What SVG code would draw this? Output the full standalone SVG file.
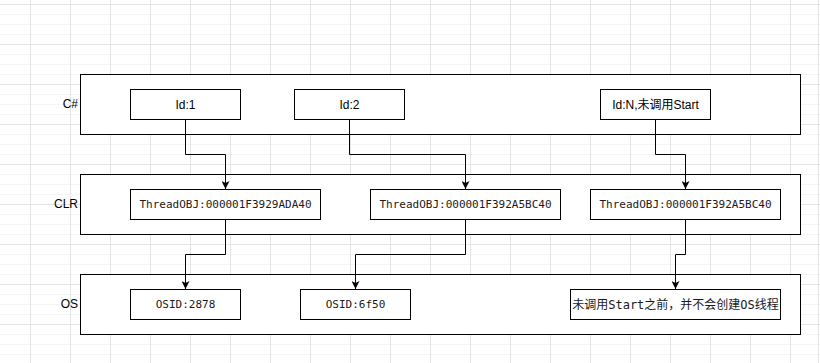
<svg xmlns="http://www.w3.org/2000/svg" width="820" height="363" viewBox="0 0 820 363">
  <defs>
    <pattern id="minor" x="0" y="4" width="10" height="10" patternUnits="userSpaceOnUse">
      <path d="M10.5 0 V10 M0 0.5 H10" fill="none" stroke="#f4f4f4" stroke-width="1"/>
    </pattern>
    <pattern id="major" x="30" y="4" width="40" height="40" patternUnits="userSpaceOnUse">
      <path d="M0.5 0 V40 M0 0.5 H40" fill="none" stroke="#e4e4e4" stroke-width="1"/>
    </pattern>
    <marker id="arrow" viewBox="0 0 8 8" refX="8" refY="4" markerWidth="8" markerHeight="8" markerUnits="userSpaceOnUse" orient="auto">
      <path d="M0 0 L8 4 L0 8 L2 4 Z" fill="#000"/>
    </marker>
    <style>
      .layer { fill: #fff; stroke: #000; stroke-width: 1; }
      .box { fill: #fff; stroke: #000; stroke-width: 1; }
      .lbl { font-family: "Liberation Sans", Arial, sans-serif; font-size: 12px; fill: #000; }
      .sans { font-family: "Liberation Sans", "Noto Sans CJK SC", Arial, sans-serif; font-size: 12px; fill: #000; text-anchor: middle; }
      .mono { font-family: "DejaVu Sans Mono", "Noto Sans CJK SC", monospace; font-size: 11px; fill: #1a1a1a; text-anchor: middle; }
      .monocjk { font-family: "DejaVu Sans Mono", "Noto Sans CJK SC", monospace; font-size: 12px; fill: #1a1a1a; text-anchor: middle; }
      .conn { fill: none; stroke: #000; stroke-width: 1; }
    </style>
  </defs>
  <rect width="820" height="363" fill="#fff"/>
  <rect width="820" height="363" fill="url(#minor)"/>
  <rect width="820" height="363" fill="url(#major)"/>
  <line x1="818.5" y1="0" x2="818.5" y2="363" stroke="#e4e4e4"/>

  <g id="layer-cs">
    <rect class="layer" x="80.5" y="74.5" width="720" height="60"/>
    <text class="lbl" x="78" y="108" text-anchor="end">C#</text>
  </g>
  <g id="layer-clr">
    <rect class="layer" x="80.5" y="174.5" width="720" height="60"/>
    <text class="lbl" x="78" y="208" text-anchor="end">CLR</text>
  </g>
  <g id="layer-os">
    <rect class="layer" x="80.5" y="274.5" width="720" height="60"/>
    <text class="lbl" x="78" y="308" text-anchor="end">OS</text>
  </g>

  <g id="cs-id1">
    <rect class="box" x="130.5" y="89.5" width="110" height="30"/>
    <text class="sans" x="185.5" y="108.5">Id:1</text>
  </g>
  <g id="cs-id2">
    <rect class="box" x="294.5" y="89.5" width="110" height="30"/>
    <text class="sans" x="349.5" y="108.5">Id:2</text>
  </g>
  <g id="cs-idn">
    <rect class="box" x="600.5" y="89.5" width="110" height="30"/>
    <text class="sans" x="655.5" y="108.5">Id:N,未调用Start</text>
  </g>

  <g id="clr-obj1">
    <rect class="box" x="130.5" y="189.5" width="190" height="30"/>
    <text class="mono" x="225.5" y="208">ThreadOBJ:000001F3929ADA40</text>
  </g>
  <g id="clr-obj2">
    <rect class="box" x="370.5" y="189.5" width="190" height="30"/>
    <text class="mono" x="465.5" y="208">ThreadOBJ:000001F392A5BC40</text>
  </g>
  <g id="clr-obj3">
    <rect class="box" x="590.5" y="189.5" width="190" height="30"/>
    <text class="mono" x="685.5" y="208">ThreadOBJ:000001F392A5BC40</text>
  </g>

  <g id="os-1">
    <rect class="box" x="130.5" y="289.5" width="110" height="30"/>
    <text class="mono" x="185.5" y="308">OSID:2878</text>
  </g>
  <g id="os-2">
    <rect class="box" x="300.5" y="289.5" width="110" height="30"/>
    <text class="mono" x="355.5" y="308">OSID:6f50</text>
  </g>
  <g id="os-3">
    <rect class="box" x="570.5" y="289.5" width="210" height="30"/>
    <text class="monocjk" x="675.5" y="308.5">未调用Start之前，并不会创建OS线程</text>
  </g>

  <g id="connectors">
    <path class="conn" d="M185.5 119.5 V154.5 H225.5 V189" marker-end="url(#arrow)"/>
    <path class="conn" d="M349.5 119.5 V154.5 H465.5 V189" marker-end="url(#arrow)"/>
    <path class="conn" d="M655.5 119.5 V154.5 H685.5 V189" marker-end="url(#arrow)"/>
    <path class="conn" d="M225.5 219.5 V254.5 H185.5 V289" marker-end="url(#arrow)"/>
    <path class="conn" d="M465.5 219.5 V254.5 H355.5 V289" marker-end="url(#arrow)"/>
    <path class="conn" d="M685.5 219.5 V254.5 H675.5 V289" marker-end="url(#arrow)"/>
  </g>
</svg>
